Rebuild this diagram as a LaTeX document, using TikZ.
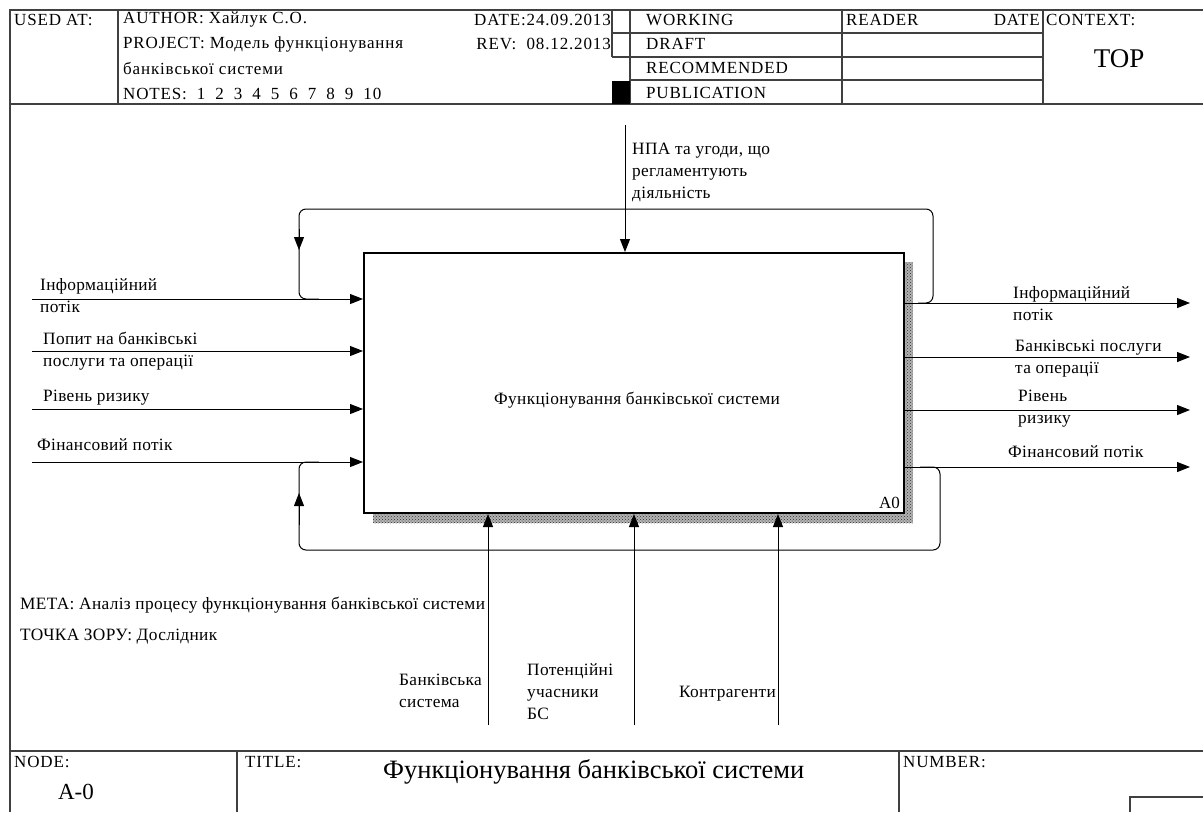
\documentclass[tikz,border=0pt]{standalone}
\usepackage{fontspec}
\setmainfont{Liberation Serif}[LetterSpace=2]
\newfontfamily\plainfont{Liberation Serif}
\newfontfamily\hdrfont{Liberation Serif}[LetterSpace=5]
\usetikzlibrary{arrows.meta,patterns}
\tikzset{
  frame/.style={draw=black!75, line width=1.2pt},
  conn/.style={draw=black, line width=1pt},
  arr/.style={conn, -{Triangle[length=13pt,width=10pt]}},
  lbl/.style={inner sep=0pt, font=\fontsize{17.3}{22}\selectfont, align=left},
  hdr/.style={inner sep=0pt, anchor=west, font=\hdrfont\fontsize{17}{18}\selectfont},
  funcbox/.style={draw, line width=2pt, minimum width=540pt, minimum height=260pt, inner sep=0pt, anchor=north west},
  shadow/.style={fill=black!30, postaction={pattern=crosshatch dots, pattern color=black!80}},
}
\begin{document}
\begin{tikzpicture}[x=1pt,y=-1pt]
\useasboundingbox[fill=white] (0,0) rectangle (1203,812);
% ---------- header ----------
\draw[frame] (10,812) -- (10,10) -- (1203,10);
\draw[frame] (10,104) -- (1203,104);
\draw[frame] (118,10) -- (118,104);
\draw[frame] (612,10) -- (612,57);
\draw[frame] (630,10) -- (630,104);
\draw[frame] (842,10) -- (842,104);
\draw[frame] (1043,10) -- (1043,104);
\draw[frame] (612,33) -- (1043,33);
\draw[frame] (612,57) -- (1043,57);
\draw[frame] (630,80) -- (1043,80);
\fill[black] (612,81) rectangle (630,104);
\node[hdr] (usedat) at (14,20) {USED AT:};
\node[hdr] (author) at (123,20) {AUTHOR:\ Хайлук С.О.};
\node[hdr, anchor=east] (date) at (611,20) {DATE:24.09.2013};
\node[hdr] (project) at (123,44) {PROJECT:\ Модель функціонування};
\node[hdr, anchor=east] (rev) at (611,44) {REV:\ \ 08.12.2013};
\node[hdr] (project2) at (123,68) {банківської системи};
\node[hdr] (notes) at (123,94) {NOTES:\hspace{10pt}1\hspace{10pt}2\hspace{10pt}3\hspace{10pt}4\hspace{10pt}5\hspace{10pt}6\hspace{10pt}7\hspace{10pt}8\hspace{10pt}9\hspace{10pt}10};
\node[hdr] (working) at (646,20) {WORKING};
\node[hdr] (draft) at (646,44) {DRAFT};
\node[hdr] (recom) at (646,68) {RECOMMENDED};
\node[hdr] (publ) at (646,93) {PUBLICATION};
\node[hdr] (reader) at (846,20) {READER};
\node[hdr, anchor=east] (rdate) at (1040,20) {DATE};
\node[hdr] (context) at (1046,20) {CONTEXT:};
\node[inner sep=0pt, font=\plainfont\fontsize{27}{30}\selectfont] (top) at (1119,59) {TOP};
% ---------- main diagram ----------
\path[shadow] (904,262) rectangle (913,523);
\path[shadow] (373,513) rectangle (904,523);
\node[funcbox] (A0) at (363,252) {};
\node[lbl, anchor=center] (A0name) at (637,400) {Функціонування банківської системи};
\node[inner sep=0pt, anchor=south east, font=\plainfont\fontsize{17}{20}\selectfont] (A0num) at (900,509) {A0};
% free ends
\coordinate (i1) at (32,299);
\coordinate (i2) at (32,351);
\coordinate (i3) at (32,409);
\coordinate (i4) at (32,462);
\coordinate (o1) at (1190,303);
\coordinate (o2) at (1190,357);
\coordinate (o3) at (1190,410);
\coordinate (o4) at (1190,467);
\coordinate (c1) at (625,125);
\coordinate (m1) at (488,725);
\coordinate (m2) at (634,725);
\coordinate (m3) at (778,725);
% loop corners
\coordinate (ft1) at (933,209);
\coordinate (ft2) at (299,209);
\coordinate (fb1) at (940,550);
\coordinate (fb2) at (299,550);
% inputs
\draw[arr] (i1) -- (i1 -| A0.west);
\draw[arr] (i2) -- (i2 -| A0.west);
\draw[arr] (i3) -- (i3 -| A0.west);
\draw[arr] (i4) -- (i4 -| A0.west);
% outputs
\draw[arr] (A0.east |- o1) -- (o1);
\draw[arr] (A0.east |- o2) -- (o2);
\draw[arr] (A0.east |- o3) -- (o3);
\draw[arr] (A0.east |- o4) -- (o4);
% control
\draw[arr] (c1) -- (c1 |- A0.north);
% mechanisms
\draw[arr] (m1) -- (m1 |- A0.south);
\draw[arr] (m2) -- (m2 |- A0.south);
\draw[arr] (m3) -- (m3 |- A0.south);
% feedback loops
\draw[conn, rounded corners=7pt] ([xshift=-15pt]ft1 |- o1) -- (ft1 |- o1) -- (ft1) -- (ft2) -- (ft2 |- i1) -- ([xshift=20pt]ft2 |- i1);
\draw[arr] (ft2) ++(0,20) -- ++(0,21);
\draw[conn, rounded corners=7pt] ([xshift=-20pt]fb1 |- o4) -- (fb1 |- o4) -- (fb1) -- (fb2) -- (fb2 |- i4) -- ([xshift=20pt]fb2 |- i4);
\draw[arr] (fb2) ++(0,-25) -- ++(0,-32);
% arrow labels
\node[lbl, anchor=west] (li1) at (40,296) {Інформаційний\\потік};
\node[lbl, anchor=west] (li2) at (43,351) {Попит на банківські\\послуги та операції};
\node[lbl, anchor=west] (li3) at (43,398) {Рівень ризику};
\node[lbl, anchor=west] (li4) at (37,445) {Фінансовий потік};
\node[lbl, anchor=west] (lo1) at (1013,304) {Інформаційний\\потік};
\node[lbl, anchor=west] (lo2) at (1015,359) {Банківські послуги\\та операції};
\node[lbl, anchor=west] (lo3) at (1018,409) {Рівень\\ризику};
\node[lbl, anchor=west] (lo4) at (1008,452) {Фінансовий потік};
\node[lbl, anchor=west] (lc1) at (632,172) {НПА та угоди, що\\регламентують\\діяльність};
\node[lbl, anchor=west] (lm1) at (399,691) {Банківська\\система};
\node[lbl, anchor=west] (lm2) at (527,692) {Потенційні\\учасники\\БС};
\node[lbl, anchor=east] (lm3) at (776,694) {Контрагенти};
\node[lbl, anchor=west] (purpose) at (20,605) {МЕТА: Аналіз процесу функціонування банківської системи};
\node[lbl, anchor=west] (view) at (20,637) {ТОЧКА ЗОРУ: Дослідник};
% ---------- footer ----------
\draw[frame] (10,751) -- (1203,751);
\draw[frame] (237,751) -- (237,812);
\draw[frame] (899,751) -- (899,812);
\draw[frame] (1130,812) -- (1130,797) -- (1203,797);
\node[hdr] (nodel) at (14,762) {NODE:};
\node[inner sep=0pt, font=\plainfont\fontsize{23}{26}\selectfont] (nodenum) at (76,792) {A-0};
\node[hdr] (titlel) at (245,762) {TITLE:};
\node[inner sep=0pt, anchor=west, font=\plainfont\fontsize{26.5}{30}\selectfont] (title) at (383,772) {Функціонування банківської системи};
\node[hdr] (numberl) at (903,762) {NUMBER:};
\end{tikzpicture}
\end{document}
